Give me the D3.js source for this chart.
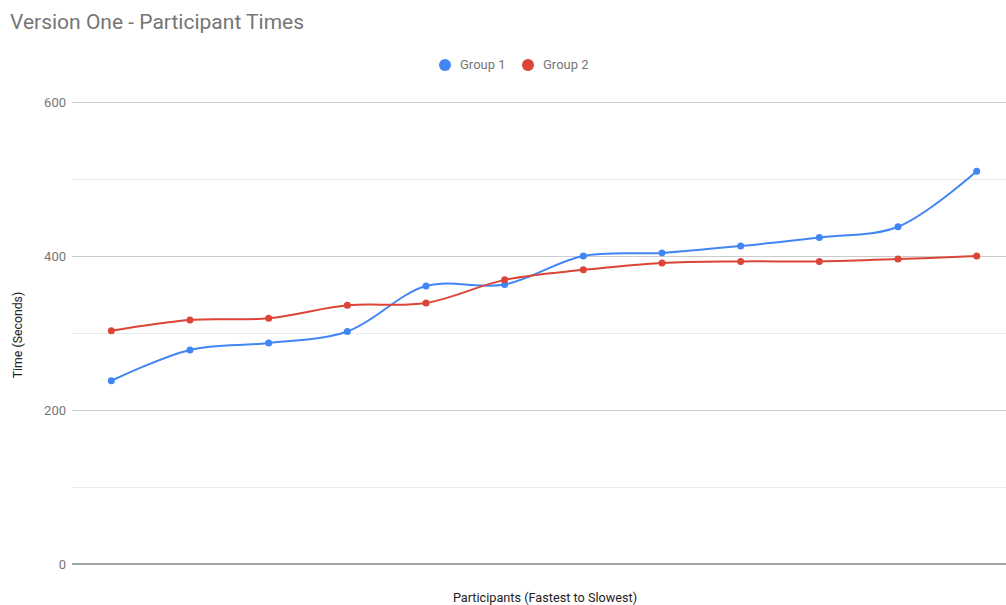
<!DOCTYPE html>
<html>
<head>
<meta charset="utf-8">
<script src="https://cdn.jsdelivr.net/npm/d3@7"></script>
<style>
  html, body { margin: 0; padding: 0; background: #fff; }
  svg { display: block; font-family: Roboto, "Noto Sans", Arial, sans-serif; }
</style>
</head>
<body>
<svg id="chart" width="1006" height="605"></svg>
<script>
// Participant finishing times, sorted fastest to slowest
const participants = ["P1", "P2", "P3", "P4", "P5", "P6", "P7", "P8", "P9", "P10", "P11", "P12"];
const group1 = [238, 278, 287, 302, 361, 363, 400, 404, 413, 424, 438, 510];
const group2 = [303, 317, 319, 336, 339, 369, 382, 391, 393, 393, 396, 400];
const seriesNames = ["Group 1", "Group 2"];
const seriesColors = ["#4285F4", "#DB4437"];
const majorTicks = [0, 200, 400, 600];
const minorTicks = [100, 300, 500];

const svg = d3.select("#chart");
const plot = { left: 72, right: 1016, top: 102, bottom: 564 };

const x = d3.scalePoint()
  .domain(participants)
  .range([plot.left, plot.right])
  .padding(0.5);

const y = d3.scaleLinear()
  .domain([0, 600])
  .range([plot.bottom, plot.top]);

// Title
svg.append("text")
  .attr("x", 10).attr("y", 29)
  .attr("font-size", 21)
  .attr("fill", "#757575")
  .text("Version One - Participant Times");

// Legend
const legend = svg.append("g");
const legendItems = [{ cx: 445, tx: 460 }, { cx: 528, tx: 543 }];
seriesNames.forEach((name, i) => {
  legend.append("circle")
    .attr("cx", legendItems[i].cx).attr("cy", 65).attr("r", 6)
    .attr("fill", seriesColors[i]);
  legend.append("text")
    .attr("x", legendItems[i].tx).attr("y", 69)
    .attr("font-size", 13)
    .attr("fill", "#757575")
    .text(name);
});

// Gridlines
const grid = svg.append("g");
grid.selectAll("line.minor")
  .data(minorTicks).join("line")
  .attr("class", "minor")
  .attr("x1", plot.left).attr("x2", plot.right)
  .attr("y1", d => Math.round(y(d)) + 0.5).attr("y2", d => Math.round(y(d)) + 0.5)
  .attr("stroke", "#ebebeb").attr("stroke-width", 1);
grid.selectAll("line.major")
  .data(majorTicks.filter(d => d !== 0)).join("line")
  .attr("class", "major")
  .attr("x1", plot.left).attr("x2", plot.right)
  .attr("y1", d => Math.round(y(d)) + 0.5).attr("y2", d => Math.round(y(d)) + 0.5)
  .attr("stroke", "#cccccc").attr("stroke-width", 1);

// Y axis tick labels
const yAxis = d3.axisLeft(y).tickValues(majorTicks).tickSize(0).tickPadding(0);
const yg = svg.append("g")
  .attr("transform", `translate(${plot.left - 6},0)`)
  .call(yAxis);
yg.select(".domain").remove();
yg.selectAll("text")
  .attr("font-family", "Roboto, 'Noto Sans', Arial, sans-serif")
  .attr("font-size", 13)
  .attr("fill", "#757575")
  .attr("dy", "0.35em");

// Baseline at zero
svg.append("line")
  .attr("x1", plot.left).attr("x2", plot.right)
  .attr("y1", y(0)).attr("y2", y(0))
  .attr("stroke", "#888888").attr("stroke-width", 1.5);

// Axis titles
svg.append("text")
  .attr("x", (plot.left + plot.right) / 2 + 1).attr("y", 602)
  .attr("text-anchor", "middle")
  .attr("font-size", 12.7)
  .attr("fill", "#222222")
  .text("Participants (Fastest to Slowest)");

svg.append("text")
  .attr("transform", `translate(22,${(plot.top + plot.bottom) / 2 + 2}) rotate(-90)`)
  .attr("text-anchor", "middle")
  .attr("font-size", 12.3)
  .attr("fill", "#222222")
  .text("Time (Seconds)");

// Series lines and points
const series = [group1, group2];
const line = d3.line()
  .x((d, i) => x(participants[i]))
  .y(d => y(d))
  .curve(d3.curveCatmullRom.alpha(0.5));

series.forEach((values, s) => {
  svg.append("path")
    .datum(values)
    .attr("d", line)
    .attr("fill", "none")
    .attr("stroke", seriesColors[s])
    .attr("stroke-width", 2);
  svg.append("g").selectAll("circle")
    .data(values).join("circle")
    .attr("cx", (d, i) => x(participants[i]))
    .attr("cy", d => y(d))
    .attr("r", 3.5)
    .attr("fill", seriesColors[s]);
});
</script>
</body>
</html>
